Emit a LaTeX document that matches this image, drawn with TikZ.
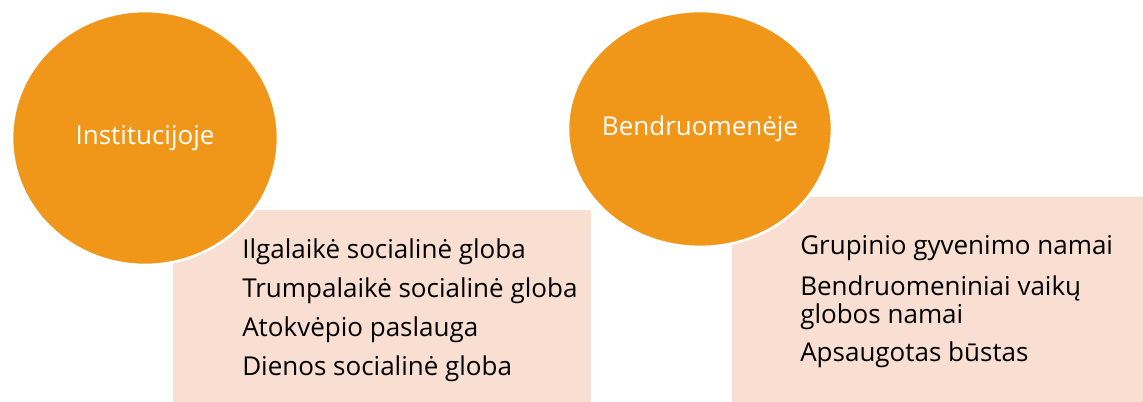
\documentclass[tikz,border=0pt]{standalone}
\usepackage{fontspec}
\setmainfont{Open Sans}
\usetikzlibrary{shapes.geometric}

\definecolor{careorange}{RGB}{240,151,26}
\definecolor{carepeach}{RGB}{249,222,210}

\tikzset{%
  every setting/.style={
    ellipse,
    fill=careorange,
    draw=white,
    line width=2pt,
    inner sep=0pt
  },
  setting text/.style={
    text=white,
    font=\fontsize{19.5}{21}\selectfont
  },
  every service/.style={
    anchor=base west,
    align=left,
    inner sep=0pt,
    font=\fontsize{19.5}{21}\selectfont
  },
}

\begin{document}
\begin{tikzpicture}[x=0.75pt, y=-0.75pt]
    \useasboundingbox (0,0) rectangle (1143,402);
    % boxes behind the circles
    \fill [carepeach] (173,210) rectangle (591,402);
    \fill [carepeach] (732,197) rectangle (1143,402);
    \node [every setting, minimum width=199.5pt, minimum height=190.5pt,
      label={[setting text]center:Institucijoje}] (setting-1) at (145,138) {};
    \node [every setting, minimum width=198pt, minimum height=177pt,
      label={[setting text]center:Bendruomenėje}] (setting-2) at (700,129) {};
    \foreach \l [count=\i] in {Ilgalaikė socialinė globa, Trumpalaikė socialinė globa, Atokvėpio paslauga, Dienos socialinė globa}
      \node [every service] (inst-\i) at (242,259+\i*39-39) {\l};
    \foreach \l/\y [count=\i] in {Grupinio gyvenimo namai/255, {Bendruomeniniai vaikų\\globos namai}/324, Apsaugotas būstas/362}
      \node [every service] (comm-\i) at (800,\y) {\l};
\end{tikzpicture}
\end{document}
